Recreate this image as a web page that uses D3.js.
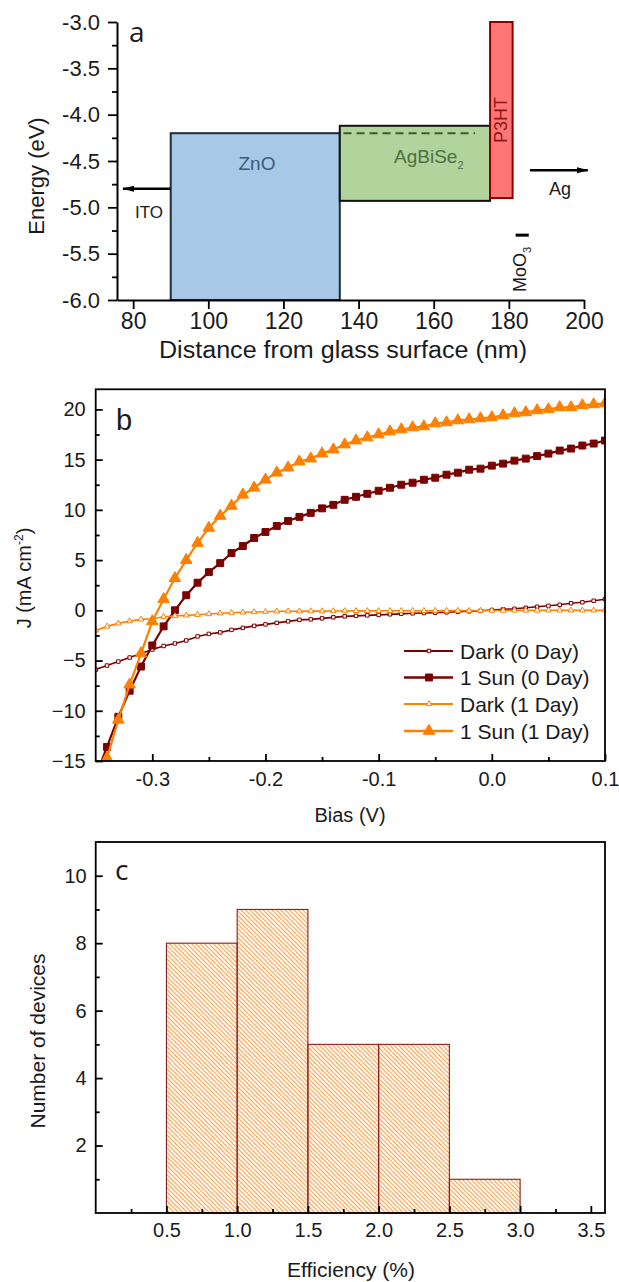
<!DOCTYPE html>
<html>
<head>
<meta charset="utf-8">
<title>AgBiSe2 solar cell</title>
<script src="https://d3js.org/d3.v7.min.js"></script>
<style>
  body { margin: 0; background: #fff; }
  svg text { font-family: "Liberation Sans", Arial, sans-serif; fill: #1a1a1a; }
</style>
</head>
<body>
<svg width="619" height="1282"></svg>
<script>
// ---------- panel a: energy levels ----------
const layerNames = ["ZnO", "AgBiSe", "P3HT"];
const layerStart = [90, 135, 175];
const layerEnd = [135, 175, 181];
const layerTop = [-4.2, -4.12, -3.0];
const layerBottom = [-6.0, -4.93, -4.9];
const agbiseDashLevel = -4.2;
const itoLevel = -4.8;
const agLevel = -4.6;
const moo3Level = -5.3;
const energyTicks = [-6.0, -5.5, -5.0, -4.5, -4.0, -3.5, -3.0];
const energyMinor = [-5.75, -5.25, -4.75, -4.25, -3.75, -3.25];
const distanceTicks = [80, 100, 120, 140, 160, 180, 200];

// ---------- panel b: J-V curves ----------
const biasV = [-0.35, -0.34, -0.33, -0.32, -0.31, -0.30, -0.29, -0.28, -0.27, -0.26,
  -0.25, -0.24, -0.23, -0.22, -0.21, -0.20, -0.19, -0.18, -0.17, -0.16,
  -0.15, -0.14, -0.13, -0.12, -0.11, -0.10, -0.09, -0.08, -0.07, -0.06,
  -0.05, -0.04, -0.03, -0.02, -0.01, 0.00, 0.01, 0.02, 0.03, 0.04,
  0.05, 0.06, 0.07, 0.08, 0.09, 0.10];
const jDark0 = [-5.9, -5.5, -5.1, -4.7, -4.3, -3.9, -3.55, -3.3, -3.0, -2.6,
  -2.35, -2.2, -1.95, -1.75, -1.55, -1.4, -1.25, -1.1, -0.95, -0.9,
  -0.8, -0.7, -0.6, -0.55, -0.5, -0.45, -0.4, -0.35, -0.3, -0.27,
  -0.24, -0.2, -0.14, -0.1, -0.05, 0.03, 0.1, 0.15, 0.25, 0.35,
  0.45, 0.55, 0.7, 0.8, 0.95, 1.1];
const jSun0 = [-16.5, -13.6, -10.6, -8.0, -5.6, -3.5, -1.6, 0.0, 1.5, 2.75,
  3.8, 4.7, 5.7, 6.4, 7.2, 7.8, 8.4, 8.9, 9.3, 9.7,
  10.15, 10.5, 11.0, 11.3, 11.6, 11.9, 12.2, 12.5, 12.7, 13.0,
  13.2, 13.5, 13.7, 14.0, 14.1, 14.4, 14.6, 14.9, 15.1, 15.35,
  15.6, 15.9, 16.1, 16.4, 16.6, 16.9];
const jDark1 = [-2.0, -1.6, -1.3, -1.07, -0.9, -0.84, -0.64, -0.57, -0.5, -0.44,
  -0.37, -0.3, -0.24, -0.2, -0.17, -0.14, -0.1, -0.1, -0.09, -0.08,
  -0.08, -0.07, -0.07, -0.06, -0.06, -0.05, -0.05, -0.05, -0.04, -0.04,
  -0.04, -0.03, -0.03, -0.03, -0.02, -0.02, -0.02, -0.01, -0.01, -0.01,
  0.0, 0.0, 0.0, 0.0, 0.0, 0.0];
const jSun1 = [-18.5, -14.7, -10.9, -7.4, -4.3, -1.1, 1.1, 3.2, 5.0, 6.7,
  8.2, 9.4, 10.4, 11.5, 12.2, 13.0, 13.7, 14.2, 14.8, 15.1,
  15.6, 16.0, 16.5, 16.9, 17.2, 17.5, 17.8, 18.0, 18.2, 18.3,
  18.6, 18.7, 18.9, 19.0, 19.1, 19.2, 19.4, 19.6, 19.7, 19.9,
  20.0, 20.2, 20.2, 20.4, 20.5, 20.6];
const seriesNames = ["Dark (0 Day)", "1 Sun (0 Day)", "Dark (1 Day)", "1 Sun (1 Day)"];
const biasTicks = [-0.3, -0.2, -0.1, 0.0, 0.1];
const biasMinor = [-0.25, -0.15, -0.05, 0.05];
const jTicks = [-15, -10, -5, 0, 5, 10, 15, 20];
const jMinor = [-12.5, -7.5, -2.5, 2.5, 7.5, 12.5, 17.5];

// ---------- panel c: efficiency histogram ----------
const effBinStart = [0.5, 1.0, 1.5, 2.0, 2.5];
const effBinEnd = [1.0, 1.5, 2.0, 2.5, 3.0];
const deviceCounts = [8, 9, 5, 5, 1];
const effTicks = [0.5, 1.0, 1.5, 2.0, 2.5, 3.0, 3.5];
const effMinor = [0.25, 0.75, 1.25, 1.75, 2.25, 2.75, 3.25];
const countTicks = [2, 4, 6, 8, 10];
const countMinor = [1, 3, 5, 7, 9];

const svg = d3.select("svg");
const darkRed = "#7b0000", orange = "#ff7f00";
const defs = svg.append("defs");

function styleAxis(g, size) {
  g.attr("font-family", null).attr("font-size", size);
  g.selectAll("line").attr("stroke", "#000").attr("stroke-width", 1.8);
  g.selectAll("path.domain").attr("stroke", "#000").attr("stroke-width", 2);
  g.selectAll("text").attr("fill", "#1a1a1a");
  return g;
}

// ================= panel a =================
const xa = d3.scaleLinear().domain([75.7, 200]).range([117, 584]);
const ya = d3.scaleLinear().domain([-6, -3]).range([300, 22]);

const layers = layerNames.map((n, i) => ({ name: n, x0: layerStart[i], x1: layerEnd[i], top: layerTop[i], bottom: layerBottom[i] }));
const layerFill = ["#a7c8e6", "#b1d39c", "#ff7676"];
const layerStroke = ["#1e2c3a", "#111", "#8b0000"];

svg.append("g").selectAll("rect").data(layers).join("rect")
  .attr("x", d => xa(d.x0))
  .attr("y", d => ya(d.top))
  .attr("width", d => xa(d.x1) - xa(d.x0))
  .attr("height", d => ya(d.bottom) - ya(d.top))
  .attr("fill", (d, i) => layerFill[i])
  .attr("stroke", (d, i) => layerStroke[i])
  .attr("stroke-width", 2);

// dashed level inside AgBiSe2
svg.append("line")
  .attr("x1", xa(136)).attr("x2", xa(171))
  .attr("y1", ya(agbiseDashLevel)).attr("y2", ya(agbiseDashLevel))
  .attr("stroke", "#3b5a2f").attr("stroke-width", 2).attr("stroke-dasharray", "8,5");

defs.append("marker").attr("id", "arrow")
  .attr("markerUnits", "userSpaceOnUse")
  .attr("viewBox", "0 0 12 8").attr("refX", 11).attr("refY", 4)
  .attr("markerWidth", 12).attr("markerHeight", 8).attr("orient", "auto")
  .append("path").attr("d", "M0,1 L12,4 L0,7 Z").attr("fill", "#000");

// ITO and Ag work functions
svg.append("line")
  .attr("x1", xa(90)).attr("x2", xa(77.3))
  .attr("y1", ya(itoLevel)).attr("y2", ya(itoLevel))
  .attr("stroke", "#000").attr("stroke-width", 2.5).attr("marker-end", "url(#arrow)");
svg.append("line")
  .attr("x1", xa(185.6)).attr("x2", xa(201))
  .attr("y1", ya(agLevel)).attr("y2", ya(agLevel))
  .attr("stroke", "#000").attr("stroke-width", 2.5).attr("marker-end", "url(#arrow)");
svg.append("line")
  .attr("x1", xa(181.8)).attr("x2", xa(185.3))
  .attr("y1", ya(moo3Level)).attr("y2", ya(moo3Level))
  .attr("stroke", "#000").attr("stroke-width", 3);

svg.append("text").attr("x", 257).attr("y", 170).attr("text-anchor", "middle")
  .attr("font-size", 19).style("fill", "#3d5b78").text("ZnO");
const agt = svg.append("text").attr("x", 394).attr("y", 163)
  .attr("font-size", 19).style("fill", "#4c7040");
agt.append("tspan").text("AgBiSe");
agt.append("tspan").attr("font-size", 11).attr("dy", 6).text("2");
svg.append("text").attr("transform", "translate(507,120) rotate(-90)")
  .attr("text-anchor", "middle").attr("font-size", 18).style("fill", "#8b1a1a").text("P3HT");
svg.append("text").attr("x", 149).attr("y", 218).attr("text-anchor", "middle")
  .attr("font-size", 17).text("ITO");
svg.append("text").attr("x", 560).attr("y", 195).attr("text-anchor", "middle")
  .attr("font-size", 18).text("Ag");
const mt = svg.append("text").attr("transform", "translate(526,292) rotate(-90)")
  .attr("font-size", 18);
mt.append("tspan").text("MoO");
mt.append("tspan").attr("font-size", 11).attr("dy", 5).text("3");

// axes a (ticks out)
styleAxis(svg.append("g").attr("transform", "translate(117,0)")
  .call(d3.axisLeft(ya).tickValues(energyTicks).tickSize(9).tickSizeOuter(0).tickPadding(8)
    .tickFormat(d => d.toFixed(1))), 22);
styleAxis(svg.append("g").attr("transform", "translate(117,0)")
  .call(d3.axisLeft(ya).tickValues(energyMinor).tickSize(5).tickFormat("")), 22)
  .select(".domain").remove();
styleAxis(svg.append("g").attr("transform", "translate(0,300)")
  .call(d3.axisBottom(xa).tickValues(distanceTicks).tickSize(9).tickSizeOuter(0).tickPadding(4)), 23);

svg.append("text").attr("transform", "translate(44,176) rotate(-90)")
  .attr("text-anchor", "middle").attr("font-size", 22).text("Energy (eV)");
svg.append("text").attr("x", 343).attr("y", 358).attr("text-anchor", "middle")
  .attr("font-size", 23).attr("textLength", 368).attr("lengthAdjust", "spacingAndGlyphs")
  .text("Distance from glass surface (nm)");
svg.append("text").attr("x", 129).attr("y", 42).attr("font-size", 28)
  .style("font-family", "'Open Sans', sans-serif").text("a");

// ================= panel b =================
const xb = d3.scaleLinear().domain([-0.35, 0.1]).range([95.7, 605]);
const yb = d3.scaleLinear().domain([-15, 22]).range([761, 389.3]);

defs.append("clipPath").attr("id", "clipb").append("rect")
  .attr("x", xb(-0.35)).attr("y", yb(22))
  .attr("width", xb(0.1) - xb(-0.35)).attr("height", yb(-15) - yb(22));

const seriesVals = [jDark0, jSun0, jDark1, jSun1];
const seriesStyle = [
  { color: darkRed, width: 1.6, symbol: d3.symbolSquare, size: 12, fill: "#fff" },
  { color: darkRed, width: 2.2, symbol: d3.symbolSquare, size: 48, fill: darkRed },
  { color: orange, width: 1.6, symbol: d3.symbolTriangle, size: 14, fill: "#fff" },
  { color: orange, width: 2.2, symbol: d3.symbolTriangle, size: 58, fill: orange }
];
const series = seriesNames.map((n, i) => ({
  name: n, style: seriesStyle[i],
  pts: biasV.map((v, k) => [v, seriesVals[i][k]])
}));

const lineB = d3.line().x(d => xb(d[0])).y(d => yb(d[1]));
const plotB = svg.append("g").attr("clip-path", "url(#clipb)");
series.forEach(s => {
  plotB.append("path").datum(s.pts)
    .attr("fill", "none").attr("stroke", s.style.color)
    .attr("stroke-width", s.style.width).attr("d", lineB);
  plotB.append("g").selectAll("path").data(s.pts).join("path")
    .attr("transform", d => `translate(${xb(d[0])},${yb(d[1])})`)
    .attr("d", d3.symbol(s.style.symbol, s.style.size))
    .attr("fill", s.style.fill).attr("stroke", s.style.color).attr("stroke-width", 1);
});

// legend
const legY = [651, 677.5, 704, 731];
series.forEach((s, i) => {
  const g = svg.append("g").attr("transform", `translate(0,${legY[i]})`);
  g.append("line").attr("x1", 404).attr("x2", 453)
    .attr("stroke", s.style.color).attr("stroke-width", s.style.width + 0.4);
  g.append("path").attr("transform", "translate(429,0)")
    .attr("d", d3.symbol(s.style.symbol, s.style.size))
    .attr("fill", s.style.fill).attr("stroke", s.style.color).attr("stroke-width", 1);
  g.append("text").attr("x", 460).attr("dy", "0.36em").attr("font-size", 21).text(s.name);
});

// axes b (ticks in, framed)
styleAxis(svg.append("g").attr("transform", "translate(0,761)")
  .call(d3.axisBottom(xb).tickValues(biasTicks).tickSizeInner(-7).tickSizeOuter(0).tickPadding(11)
    .tickFormat(d => d.toFixed(1))), 20).select(".domain").remove();
styleAxis(svg.append("g").attr("transform", "translate(0,761)")
  .call(d3.axisBottom(xb).tickValues(biasMinor).tickSizeInner(-4).tickSizeOuter(0).tickFormat("")), 20)
  .select(".domain").remove();
styleAxis(svg.append("g").attr("transform", "translate(95.7,0)")
  .call(d3.axisLeft(yb).tickValues(jTicks).tickSizeInner(-7).tickSizeOuter(0).tickPadding(10)), 20)
  .select(".domain").remove();
styleAxis(svg.append("g").attr("transform", "translate(95.7,0)")
  .call(d3.axisLeft(yb).tickValues(jMinor).tickSizeInner(-4).tickSizeOuter(0).tickFormat("")), 20)
  .select(".domain").remove();
svg.append("rect").attr("x", xb(-0.35)).attr("y", yb(22))
  .attr("width", xb(0.1) - xb(-0.35)).attr("height", yb(-15) - yb(22))
  .attr("fill", "none").attr("stroke", "#000").attr("stroke-width", 1.8);

const jl = svg.append("text").attr("transform", "translate(31,578) rotate(-90)")
  .attr("text-anchor", "middle").attr("font-size", 20);
jl.append("tspan").text("J (mA cm");
jl.append("tspan").attr("font-size", 12).attr("dy", -8).text("-2");
jl.append("tspan").attr("dy", 8).text(")");
svg.append("text").attr("x", 350).attr("y", 822).attr("text-anchor", "middle")
  .attr("font-size", 20).text("Bias (V)");
svg.append("text").attr("x", 116).attr("y", 430).attr("font-size", 29).text("b");

// ================= panel c =================
const xc = d3.scaleLinear().domain([0, 3.6]).range([95.7, 605]);
const yc = d3.scaleLinear().domain([0, 11]).range([1213, 842]);

const hatch = defs.append("pattern").attr("id", "hatch")
  .attr("patternUnits", "userSpaceOnUse").attr("width", 4.4).attr("height", 4.4);
hatch.append("path").attr("d", "M-1,-1 L5.4,5.4 M-1,3.4 L1,5.4 M3.4,-1 L5.4,1")
  .attr("stroke", "#ff8f2a").attr("stroke-width", 1.05);

const bins = deviceCounts.map((c, i) => ({ x0: effBinStart[i], x1: effBinEnd[i], n: c }));
svg.append("g").selectAll("rect").data(bins).join("rect")
  .attr("x", d => xc(d.x0))
  .attr("y", d => yc(d.n))
  .attr("width", d => xc(d.x1) - xc(d.x0))
  .attr("height", d => yc(0) - yc(d.n))
  .attr("fill", "url(#hatch)")
  .attr("stroke", "#8e1c1c").attr("stroke-width", 1.1);

styleAxis(svg.append("g").attr("transform", "translate(0,1213)")
  .call(d3.axisBottom(xc).tickValues(effTicks).tickSizeInner(-7).tickSizeOuter(0).tickPadding(10)
    .tickFormat(d => d.toFixed(1))), 20).select(".domain").remove();
styleAxis(svg.append("g").attr("transform", "translate(0,1213)")
  .call(d3.axisBottom(xc).tickValues(effMinor).tickSizeInner(-4).tickSizeOuter(0).tickFormat("")), 20)
  .select(".domain").remove();
styleAxis(svg.append("g").attr("transform", "translate(95.7,0)")
  .call(d3.axisLeft(yc).tickValues(countTicks).tickSizeInner(-7).tickSizeOuter(0).tickPadding(9)), 20)
  .select(".domain").remove();
styleAxis(svg.append("g").attr("transform", "translate(95.7,0)")
  .call(d3.axisLeft(yc).tickValues(countMinor).tickSizeInner(-4).tickSizeOuter(0).tickFormat("")), 20)
  .select(".domain").remove();
svg.append("rect").attr("x", xc(0)).attr("y", yc(11))
  .attr("width", xc(3.6) - xc(0)).attr("height", yc(0) - yc(11))
  .attr("fill", "none").attr("stroke", "#000").attr("stroke-width", 1.8);

svg.append("text").attr("transform", "translate(45,1041) rotate(-90)")
  .attr("text-anchor", "middle").attr("font-size", 21).text("Number of devices");
svg.append("text").attr("x", 351).attr("y", 1277).attr("text-anchor", "middle")
  .attr("font-size", 21).text("Efficiency (%)");
svg.append("text").attr("x", 115).attr("y", 880).attr("font-size", 28)
  .style("font-family", "'Open Sans', sans-serif").text("c");
</script>
</body>
</html>
